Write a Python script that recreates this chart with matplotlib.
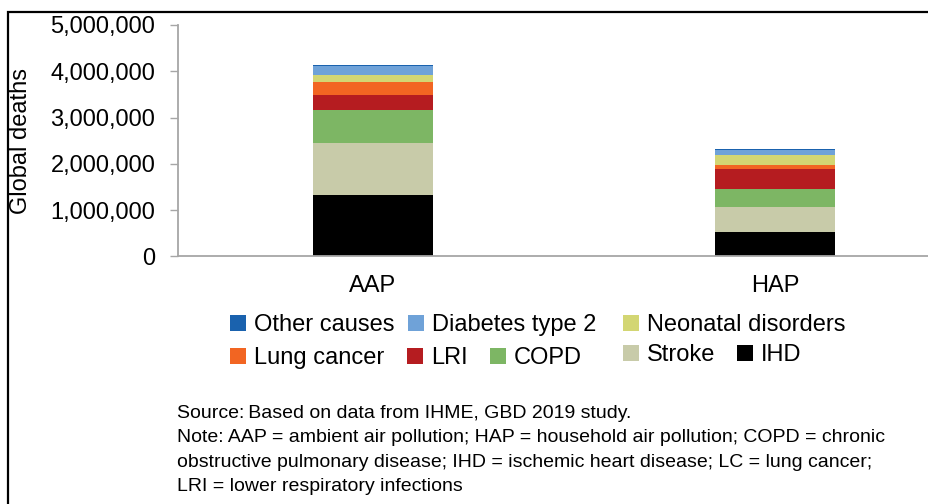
import matplotlib
matplotlib.use("Agg")
import matplotlib.pyplot as plt
from matplotlib.patches import Patch, Rectangle
from matplotlib.ticker import FuncFormatter

plt.rcParams['font.family'] = ['Liberation Sans', 'DejaVu Sans']

# Data (deaths per cause)
exposures = ["AAP", "HAP"]
causes = ["IHD", "Stroke", "COPD", "LRI", "Lung cancer",
          "Neonatal disorders", "Diabetes type 2", "Other causes"]
ihd = [1320000, 520000]
stroke = [1130000, 540000]
copd = [710000, 390000]
lri = [320000, 430000]
lung_cancer = [290000, 90000]
neonatal = [140000, 220000]
diabetes = [200000, 110000]
other = [20000, 20000]
series = [ihd, stroke, copd, lri, lung_cancer, neonatal, diabetes, other]

colors = {
    "IHD": "#000000",
    "Stroke": "#C8CBA9",
    "COPD": "#7DB664",
    "LRI": "#B51C20",
    "Lung cancer": "#F26522",
    "Neonatal disorders": "#D3D673",
    "Diabetes type 2": "#6FA2D8",
    "Other causes": "#1A62AE",
}

fig = plt.figure(figsize=(9.29, 5.04), dpi=100)
ax = fig.add_axes([0.1916, 0.4911, 0.8084, 0.4593])

x = list(range(len(exposures)))
bottom = [0, 0]
for name, vals in zip(causes, series):
    ax.bar(x, vals, width=0.3, bottom=bottom, color=colors[name], linewidth=0)
    bottom = [b + v for b, v in zip(bottom, vals)]

ax.set_xlim(-0.485, 1.383)
ax.set_ylim(0, 5000000)
ax.set_yticks(range(0, 5000001, 1000000))
ax.yaxis.set_major_formatter(FuncFormatter(lambda v, p: f"{int(v):,}"))
ax.set_xticks(x)
ax.set_xticklabels(exposures)

for s in ["top", "right"]:
    ax.spines[s].set_visible(False)
for s in ["left", "bottom"]:
    ax.spines[s].set_color("#A6A6A6")
    ax.spines[s].set_linewidth(1.3)
ax.tick_params(axis="y", length=5.8, width=1, color="#A6A6A6", pad=10.5, labelsize=17)
ax.tick_params(axis="x", length=0, pad=13, labelsize=17)
ax.set_ylabel("Global deaths", fontsize=17, labelpad=13)

# legend, laid out in rows like the original
def row_legend(names, x0, y0, spacing):
    handles = [Patch(facecolor=colors[n], edgecolor="none") for n in names]
    leg = fig.legend(handles, names, loc="center left", bbox_to_anchor=(x0, y0),
                     ncol=len(names), frameon=False, fontsize=17,
                     handlelength=0.68, handleheight=0.68, handletextpad=0.34,
                     columnspacing=spacing, borderpad=0, borderaxespad=0)
    return leg

row_legend(["Other causes", "Diabetes type 2"], 230 / 929, 1 - 325 / 504, 0.55)
row_legend(["Neonatal disorders"], 623 / 929, 1 - 325 / 504, 0.9)
row_legend(["Lung cancer", "LRI", "COPD"], 230 / 929, 1 - 358 / 504, 0.95)
row_legend(["Stroke", "IHD"], 623 / 929, 1 - 355 / 504, 0.9)

note = ("Source:\u2009Based on data from IHME, GBD 2019 study.\n"
        "Note: AAP = ambient air pollution; HAP = household air pollution; COPD = chronic\n"
        "obstructive pulmonary disease; IHD = ischemic heart disease; LC = lung cancer;\n"
        "LRI = lower respiratory infections")
fig.text(177 / 929, 1 - 405 / 504, note, ha="left", va="top", fontsize=14,
         linespacing=1.56)

# frame around the figure (cut off at the right and bottom)
fig.patches.append(Rectangle((8 / 929, -0.2), 1.2, 1.2 - 12 / 504, transform=fig.transFigure,
                             fill=False, edgecolor="black", linewidth=1.6))

fig.savefig("out.png", dpi=100)
